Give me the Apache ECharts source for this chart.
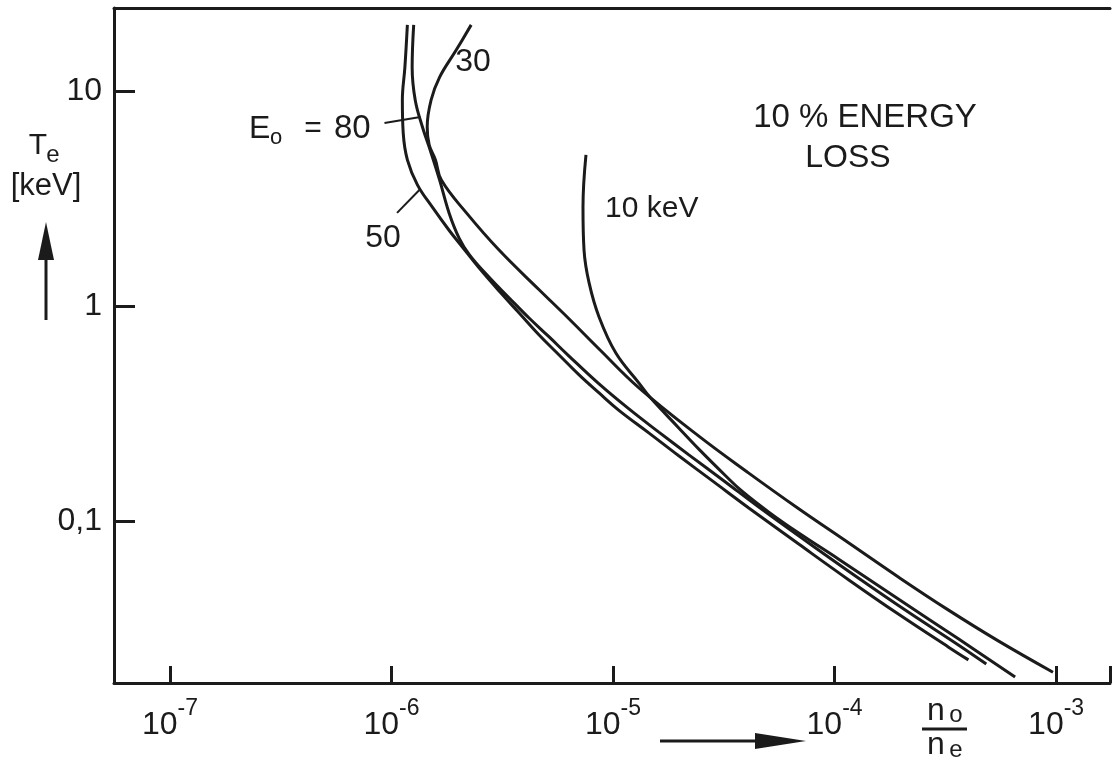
<!DOCTYPE html>
<html>
<head>
<meta charset="utf-8">
<script src="https://cdn.jsdelivr.net/npm/echarts@6/dist/echarts.min.js"></script>
<style>
  html, body { margin: 0; padding: 0; background: #fff; }
  #main { width: 1113px; height: 762px; }
</style>
</head>
<body>
<div id="main"></div>
<script>
// 10 % energy loss curves, n0/ne (x) against Te in keV (y), log-log
// values
const ratio50 = [1.18e-6, 1.15e-6, 1.12e-6, 1.13e-6, 1.18e-6, 1.31e-6, 1.53e-6, 1.82e-6, 2.09e-6, 2.49e-6, 3.07e-6, 3.77e-6, 4.64e-6, 5.71e-6, 7.03e-6, 8.65e-6, 1.06e-5, 1.45e-5, 1.98e-5, 2.85e-5, 4.10e-5, 6.89e-5, 1.16e-4, 1.94e-4, 3.27e-4, 4.02e-4];
const te50    = [20.3, 12.9, 9.08, 6.38, 4.78, 3.66, 2.88, 2.25, 1.88, 1.50, 1.17, 0.928, 0.733, 0.592, 0.478, 0.394, 0.328, 0.257, 0.201, 0.152, 0.115, 0.0781, 0.0532, 0.0369, 0.0259, 0.0226];

const ratio80 = [1.26e-6, 1.24e-6, 1.28e-6, 1.38e-6, 1.51e-6, 1.65e-6, 1.82e-6, 2.02e-6, 2.25e-6, 2.76e-6, 3.40e-6, 4.18e-6, 5.15e-6, 6.33e-6, 8.65e-6, 1.18e-5, 1.61e-5, 2.20e-5, 3.16e-5, 4.55e-5, 7.64e-5, 1.28e-4, 2.15e-4, 3.62e-4, 4.84e-4];
const te80    = [20.3, 12.9, 9.08, 6.80, 5.15, 3.85, 2.71, 2.07, 1.73, 1.36, 1.09, 0.879, 0.718, 0.585, 0.434, 0.332, 0.259, 0.203, 0.154, 0.116, 0.0790, 0.0543, 0.0377, 0.0265, 0.0216];

const ratio30 = [2.29e-6, 1.96e-6, 1.65e-6, 1.51e-6, 1.45e-6, 1.48e-6, 1.58e-6, 1.68e-6, 2.18e-6, 3.06e-6, 4.64e-6, 6.34e-6, 8.65e-6, 1.31e-5, 2.44e-5, 4.10e-5, 6.89e-5, 1.16e-4, 1.94e-4, 3.27e-4, 5.48e-4, 9.68e-4];
const te30    = [20.3, 15.5, 11.6, 9.08, 6.80, 5.61, 4.78, 3.85, 2.71, 1.82, 1.19, 0.870, 0.631, 0.416, 0.248, 0.167, 0.114, 0.0790, 0.0549, 0.0385, 0.0277, 0.0198];

const ratio10 = [7.55e-6, 7.32e-6, 7.40e-6, 7.80e-6, 8.65e-6, 1.03e-5, 1.31e-5, 1.48e-5, 1.98e-5, 2.44e-5, 3.23e-5, 3.81e-5, 5.05e-5, 6.89e-5, 1.04e-4, 1.94e-4, 3.62e-4, 6.53e-4];
const te10    = [5.04, 2.88, 1.82, 1.28, 0.889, 0.604, 0.438, 0.373, 0.271, 0.216, 0.162, 0.138, 0.110, 0.0879, 0.0666, 0.0434, 0.0283, 0.0188];

// short pointer strokes from the E0 labels to their curves
const leader80 = [[9.30e-7, 7.10], [1.35e-6, 7.57]];
const leader50 = [[1.06e-6, 2.71], [1.35e-6, 3.50]];

const xMin = Math.pow(10, -7.2523), xMax = Math.pow(10, -2.7568);
const yMin = Math.pow(10, -1.7535), yMax = Math.pow(10, 1.386);

const ink = '#1b1b1b';
const font = "'Liberation Sans', Arial, sans-serif";

const pairs = (xs, ys) => xs.map((x, i) => [x, ys[i]]);
const isDecade = v => Math.abs(Math.log10(v) - Math.round(Math.log10(v))) < 1e-6;

const curve = (name, xs, ys) => ({
  name, type: 'line', data: pairs(xs, ys),
  smooth: 0.4, symbol: 'none', silent: true,
  lineStyle: { color: ink, width: 3 }
});
const leader = (name, d) => ({
  name, type: 'line', data: d, symbol: 'none', silent: true,
  lineStyle: { color: ink, width: 2 }
});

const txt = (x, y, text, size, align) => ({
  type: 'text', x, y, silent: true,
  style: { text, font: size + 'px ' + font, fill: ink, align: align || 'center', verticalAlign: 'middle' }
});

const chart = echarts.init(document.getElementById('main'));
const option = {
  animation: false,
  backgroundColor: '#fff',
  grid: { left: 114, right: 1, top: 8, bottom: 79 },
  xAxis: [{
    type: 'log', logBase: 10, min: xMin, max: xMax, position: 'bottom',
    axisLine: { lineStyle: { color: ink, width: 3 } },
    axisTick: { inside: true, length: 17, lineStyle: { color: ink, width: 3 } },
    splitLine: { show: false },
    axisLabel: {
      margin: 14, color: ink,
      formatter: v => isDecade(v) ? '{b|10}{s|-' + (-Math.round(Math.log10(v))) + '}' : '',
      rich: {
        b: { fontFamily: font, fontSize: 32, color: ink, verticalAlign: 'bottom', lineHeight: 44 },
        s: { fontFamily: font, fontSize: 23, color: ink, verticalAlign: 'top', lineHeight: 20 }
      }
    }
  }, {
    type: 'log', logBase: 10, min: xMin, max: xMax, position: 'top',
    axisLine: { lineStyle: { color: ink, width: 3 } },
    axisTick: { show: false }, axisLabel: { show: false }, splitLine: { show: false }
  }],
  yAxis: {
    type: 'log', logBase: 10, min: yMin, max: yMax,
    axisLine: { lineStyle: { color: ink, width: 3 } },
    axisTick: { inside: true, length: 21, lineStyle: { color: ink, width: 3 } },
    splitLine: { show: false },
    axisLabel: {
      margin: 12, color: ink, fontFamily: font, fontSize: 32,
      formatter: v => isDecade(v) ? String(Number(v.toPrecision(6))).replace('.', ',') : ''
    }
  },
  series: [
    curve('50', ratio50, te50),
    curve('80', ratio80, te80),
    curve('30', ratio30, te30),
    curve('10 keV', ratio10, te10),
    leader('lead80', leader80),
    leader('lead50', leader50)
  ],
  graphic: [
    // curve labels
    txt(473, 62, '30', 32),
    txt(249, 129, 'E', 32, 'left'),
    txt(270, 138, 'o', 22, 'left'),
    txt(313, 129, '=', 30),
    txt(334, 129, '80', 33, 'left'),
    txt(383, 238, '50', 32),
    txt(605, 209, '10 keV', 30, 'left'),
    txt(865, 118, '10 % ENERGY', 33),
    txt(848, 158, 'LOSS', 32),
    // y axis name with arrow
    txt(38, 146, 'T', 30),
    txt(53, 155, 'e', 24),
    txt(46, 186, '[keV]', 31),
    { type: 'line', silent: true, shape: { x1: 46, y1: 255, x2: 46, y2: 320 }, style: { stroke: ink, lineWidth: 3 } },
    { type: 'polygon', silent: true, shape: { points: [[46, 222], [38, 260], [54, 260]] }, style: { fill: ink } },
    // x axis name n0/ne with arrow
    txt(936, 711, 'n', 32),
    txt(956, 715, 'o', 24),
    { type: 'line', silent: true, shape: { x1: 922, y1: 729, x2: 967, y2: 729 }, style: { stroke: ink, lineWidth: 3 } },
    txt(936, 745, 'n', 32),
    txt(956, 750, 'e', 24),
    { type: 'line', silent: true, shape: { x1: 660, y1: 741, x2: 760, y2: 741 }, style: { stroke: ink, lineWidth: 3 } },
    { type: 'polygon', silent: true, shape: { points: [[806, 741], [755, 733], [755, 749]] }, style: { fill: ink } }
  ]
};
chart.setOption(option);
</script>
</body>
</html>
